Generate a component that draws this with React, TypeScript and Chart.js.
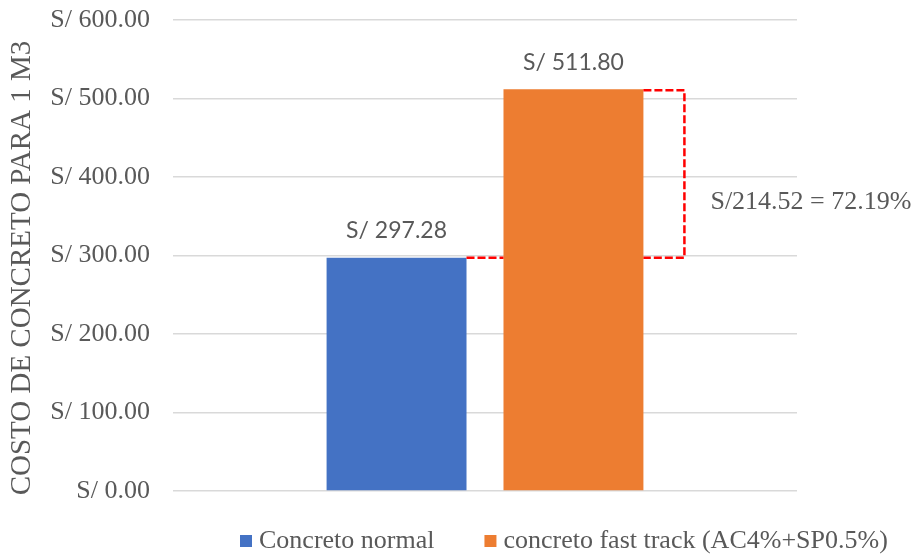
import { useEffect, useRef } from 'react';
import { Chart, registerables } from 'chart.js';

Chart.register(...registerables);

// Cost of one cubic metre of concrete, normal mix vs fast track mix
const categories = [''];
const seriesNames = ['Concreto normal', 'concreto fast track (AC4%+SP0.5%)'];
const normalCost = [297.28];
const fastTrackCost = [511.8];
const yTicks = [0, 100, 200, 300, 400, 500, 600];
const axisTitle = 'COSTO DE CONCRETO PARA 1 M3';
const differenceLabel = 'S/214.52 = 72.19%';

const SERIF = "'Liberation Serif', 'Times New Roman', serif";
const SANS = "Lato, 'Open Sans', sans-serif";
const GREY = '#595959';
const BLUE = '#4472C4';
const ORANGE = '#ED7D31';

const money = (v: number) => 'S/ ' + v.toFixed(2);

const overlayPlugin = {
  id: 'costOverlay',
  afterDatasetsDraw(chart: any) {
    const { ctx } = chart;
    const y = chart.scales.y;
    const low: any = chart.getDatasetMeta(0).data[0];
    const high: any = chart.getDatasetMeta(1).data[0];
    ctx.save();

    // value labels above the bars
    ctx.font = `23px ${SANS}`;
    ctx.fillStyle = GREY;
    ctx.textAlign = 'center';
    ctx.textBaseline = 'middle';
    chart.data.datasets.forEach((ds: any, i: number) => {
      const el: any = chart.getDatasetMeta(i).data[0];
      ctx.fillText(money(ds.data[0]), el.x, el.y - 27);
    });

    // dashed connector and bracket showing the difference
    const yLow = y.getPixelForValue(normalCost[0]);
    const yHigh = y.getPixelForValue(fastTrackCost[0]);
    const lowRight = low.x + low.width / 2;
    const highLeft = high.x - high.width / 2;
    const highRight = high.x + high.width / 2;
    const bracketX = highRight + 41;
    ctx.strokeStyle = '#FF0000';
    ctx.lineWidth = 2.5;
    ctx.setLineDash([8, 3]);
    ctx.beginPath();
    ctx.moveTo(lowRight, yLow);
    ctx.lineTo(highLeft, yLow);
    ctx.stroke();
    ctx.beginPath();
    ctx.moveTo(highRight, yHigh + 1);
    ctx.lineTo(bracketX, yHigh + 1);
    ctx.lineTo(bracketX, yLow);
    ctx.lineTo(highRight, yLow);
    ctx.stroke();
    ctx.setLineDash([]);

    ctx.font = `26px ${SERIF}`;
    ctx.fillStyle = GREY;
    ctx.textAlign = 'left';
    ctx.fillText(differenceLabel, bracketX + 26, (yLow + yHigh) / 2 + 29);
    ctx.restore();
  },
  afterDraw(chart: any) {
    const { ctx } = chart;
    ctx.save();

    // vertical axis title
    ctx.translate(22.5, 268);
    ctx.rotate(-Math.PI / 2);
    ctx.font = `29px ${SERIF}`;
    ctx.fillStyle = GREY;
    ctx.textAlign = 'center';
    ctx.textBaseline = 'middle';
    ctx.fillText(axisTitle, 0, 0);
    ctx.setTransform(1, 0, 0, 1, 0, 0);

    // legend
    ctx.font = `26px ${SERIF}`;
    ctx.textAlign = 'left';
    ctx.textBaseline = 'middle';
    let x = 240;
    const cy = 541;
    chart.data.datasets.forEach((ds: any) => {
      ctx.fillStyle = ds.backgroundColor;
      ctx.fillRect(x, cy - 6, 12, 12);
      ctx.fillStyle = GREY;
      ctx.fillText(ds.label, x + 19, cy);
      x += 19 + ctx.measureText(ds.label).width + 50;
    });
    ctx.restore();
  },
};

export default function App() {
  const canvasRef = useRef<HTMLCanvasElement | null>(null);

  useEffect(() => {
    document.body.style.margin = '0';
    const canvas = canvasRef.current;
    if (!canvas) return;
    const chart = new Chart(canvas, {
      type: 'bar',
      data: {
        labels: categories,
        datasets: [
          { label: seriesNames[0], data: normalCost, backgroundColor: BLUE, borderWidth: 0 },
          { label: seriesNames[1], data: fastTrackCost, backgroundColor: ORANGE, borderWidth: 0 },
        ],
      },
      options: {
        responsive: false,
        animation: false,
        events: [],
        categoryPercentage: 0.567,
        barPercentage: 0.791,
        layout: { padding: { top: 20, bottom: 65, left: 0, right: 118 } },
        plugins: {
          legend: { display: false },
          tooltip: { enabled: false },
        },
        scales: {
          x: { display: false },
          y: {
            min: 0,
            max: 600,
            afterFit: (s: any) => {
              s.width = 173;
              s.paddingTop = 0;
              s.paddingBottom = 0;
            },
            afterBuildTicks: (s: any) => {
              s.ticks = yTicks.map((v) => ({ value: v }));
            },
            ticks: {
              padding: 23,
              color: GREY,
              font: { family: SERIF, size: 26 },
              callback: (v: any) => money(Number(v)),
            },
            grid: { color: '#d9d9d9', lineWidth: 1.5, drawTicks: false },
            border: { display: false },
          },
        },
      },
      plugins: [overlayPlugin],
    });
    return () => chart.destroy();
  }, []);

  return (
    <div style={{ width: 915, height: 556, background: '#fff' }}>
      <canvas ref={canvasRef} width={915} height={556} style={{ display: 'block' }} />
    </div>
  );
}
